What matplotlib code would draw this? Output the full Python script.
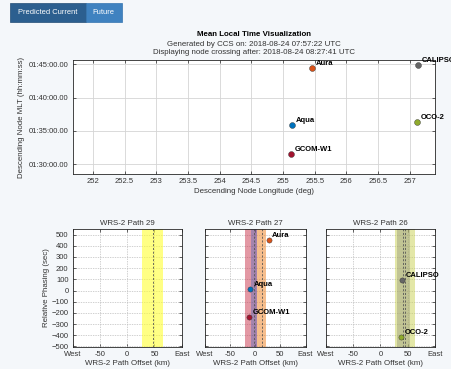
import matplotlib
matplotlib.use("Agg")
import matplotlib.pyplot as plt
from matplotlib.patches import Rectangle
from matplotlib.ticker import FuncFormatter, FixedLocator

plt.rcParams['font.family'] = ['Liberation Sans', 'DejaVu Sans']

# ---- Mean local time data (descending node) ----
sat_names = ["Aura", "CALIPSO", "OCO-2", "Aqua", "GCOM-W1"]
sat_lon = [255.46, 257.13, 257.12, 255.14, 255.13]
sat_mlt = ["01:44:24", "01:44:51", "01:36:15", "01:35:48", "01:31:30"]
sat_colors = ["#D95319", "#666666", "#8FAA2C", "#0072BD", "#A2142F"]

mlt_ticks = ["01:30:00", "01:35:00", "01:40:00", "01:45:00"]
lon_ticks = [252, 252.5, 253, 253.5, 254, 254.5, 255, 255.5, 256, 256.5, 257]

# ---- WRS-2 path panels ----
path_titles = ["WRS-2 Path 29", "WRS-2 Path 27", "WRS-2 Path 26"]
# swath bands per panel: (center km, half width km, colour, alpha)
path_bands = [
    [(47.0, 19.5, "#FFFF33", 0.6)],
    [(-8.5, 11.5, "#C8324A", 0.5), (-3.0, 6.0, "#3060C0", 0.35),
     (12.5, 9.5, "#F08A30", 0.55)],
    [(45.0, 19.0, "#C8D050", 0.5), (42.5, 12.5, "#909078", 0.4)],
]
path_centerlines = [[47.0], [-3.0, 13.0], [41.0, 46.0]]
path_points = [
    [],
    [("Aura", 27.0, 455, "#D95319"), ("Aqua", -10.0, 17, "#0072BD"),
     ("GCOM-W1", -11.5, -235, "#A2142F")],
    [("CALIPSO", 40.0, 97, "#666666"), ("OCO-2", 38.0, -418, "#8FAA2C")],
]
offset_ticks = [-100, -50, 0, 50, 100]
offset_labels = ["West", "-50", "0", "50", "East"]
phase_ticks = [-500, -400, -300, -200, -100, 0, 100, 200, 300, 400, 500]


def to_sec(s):
    h, m, sec = s.split(":")
    return int(h) * 3600 + int(m) * 60 + float(sec)


def fmt_mlt(v, pos=None):
    h = int(v // 3600)
    m = int((v - h * 3600) // 60)
    s = v - h * 3600 - m * 60
    return "%02d:%02d:%05.2f" % (h, m, s)


W, H = 452, 369
fig = plt.figure(figsize=(W / 100, H / 100), dpi=100)
fig.patch.set_facecolor("#F4F7FA")

FS = 5.5
LFS = 5.7
TXT = "#333333"


def style_axes(ax):
    ax.set_facecolor("white")
    for sp in ax.spines.values():
        sp.set_color("#262626")
        sp.set_linewidth(0.6)
    ax.tick_params(direction="in", length=2, width=0.5, labelsize=FS,
                   colors="#262626", labelcolor=TXT, top=True, right=True,
                   pad=3)


def fig_box(x0, y0, x1, y1):
    return [x0 / W, 1 - y1 / H, (x1 - x0) / W, (y1 - y0) / H]


# ---- buttons ----
fig.patches.append(Rectangle((10 / W, 1 - 21.7 / H), 75.7 / W, 19 / H,
                             transform=fig.transFigure, facecolor="#2C5F8F",
                             edgecolor="#234D75", linewidth=0.5))
fig.patches.append(Rectangle((85.7 / W, 1 - 21.7 / H), 36 / W, 19 / H,
                             transform=fig.transFigure, facecolor="#3F82C0",
                             edgecolor="#3575B0", linewidth=0.5))
fig.text(47.8 / W, 1 - 12.2 / H, "Predicted Current", color="white",
         fontsize=5.4, ha="center", va="center")
fig.text(103.7 / W, 1 - 12.2 / H, "Future", color="white",
         fontsize=5.4, ha="center", va="center")

# ---- top chart ----
ax = fig.add_axes(fig_box(72.7, 60, 435, 174))
style_axes(ax)
mlt_sec = [to_sec(s) for s in sat_mlt]
ax.set_xlim(251.68, 257.4)
ax.set_ylim(to_sec("01:28:30"), to_sec("01:45:39"))
ax.xaxis.set_major_locator(FixedLocator(lon_ticks))
ax.set_xticklabels([("%g" % t) for t in lon_ticks])
ax.yaxis.set_major_locator(FixedLocator([to_sec(s) for s in mlt_ticks]))
ax.yaxis.set_major_formatter(FuncFormatter(fmt_mlt))
ax.grid(True, color="#D4D4D4", linewidth=0.6)
ax.set_axisbelow(True)
for name, x, y, c in zip(sat_names, sat_lon, mlt_sec, sat_colors):
    ax.scatter([x], [y], s=18, color=c, edgecolors="#333333",
               linewidths=0.3, zorder=3)
    ax.annotate(name, (x, y), xytext=(2.5, 3.6), textcoords="offset points",
                fontsize=FS, fontweight="bold", ha="left", va="center",
                annotation_clip=False, zorder=4)
ax.set_xlabel("Descending Node Longitude (deg)", fontsize=LFS,
              color=TXT, labelpad=2)
ax.set_ylabel("Descending Node MLT (hh:mm:ss)", fontsize=LFS,
              color=TXT, labelpad=3)
fig.text(254 / W, 1 - 35 / H, "Mean Local Time Visualization",
         fontsize=LFS, fontweight="bold", ha="center", va="center")
fig.text(254 / W, 1 - 44 / H, "Generated by CCS on: 2018-08-24 07:57:22 UTC",
         fontsize=LFS, ha="center", va="center", color=TXT)
fig.text(254 / W, 1 - 53 / H,
         "Displaying node crossing after: 2018-08-24 08:27:41 UTC",
         fontsize=LFS, ha="center", va="center", color=TXT)

# ---- bottom WRS-2 panels ----
panel_boxes = [(72.7, 229, 181.7, 347), (205, 229, 305.5, 347),
               (325.7, 229, 435, 347)]
for i, (box, title) in enumerate(zip(panel_boxes, path_titles)):
    a = fig.add_axes(fig_box(*box))
    style_axes(a)
    a.set_xlim(-100, 100)
    a.set_ylim(-505, 550)
    a.set_xticks(offset_ticks)
    a.set_xticklabels(offset_labels)
    a.set_yticks(phase_ticks)
    if i > 0:
        a.set_yticklabels([])
    else:
        a.set_ylabel("Relative Phasing (sec)", fontsize=LFS,
                     color=TXT, labelpad=1)
    a.grid(True, color="#BEBEBE", linewidth=0.5, linestyle=(0, (2, 1.5)))
    a.set_axisbelow(True)
    for cen, hw, col, al in path_bands[i]:
        a.axvspan(cen - hw, cen + hw, color=col, alpha=al, linewidth=0,
                  zorder=1)
    for xc in path_centerlines[i]:
        a.axvline(xc, color="#555555", linewidth=0.6,
                  linestyle=(0, (2.5, 2)), zorder=2)
    for name, x, y, c in path_points[i]:
        a.scatter([x], [y], s=14, color=c, edgecolors="#333333",
                  linewidths=0.3, zorder=3)
        a.annotate(name, (x, y), xytext=(2.3, 3.3),
                   textcoords="offset points", fontsize=FS,
                   fontweight="bold", ha="left", va="center",
                   annotation_clip=False, zorder=4)
    a.set_title(title, fontsize=LFS, color=TXT, pad=3)
    a.set_xlabel("WRS-2 Path Offset (km)", fontsize=LFS,
                 color=TXT, labelpad=1.5)

fig.savefig("out.png", dpi=100, facecolor=fig.get_facecolor())
